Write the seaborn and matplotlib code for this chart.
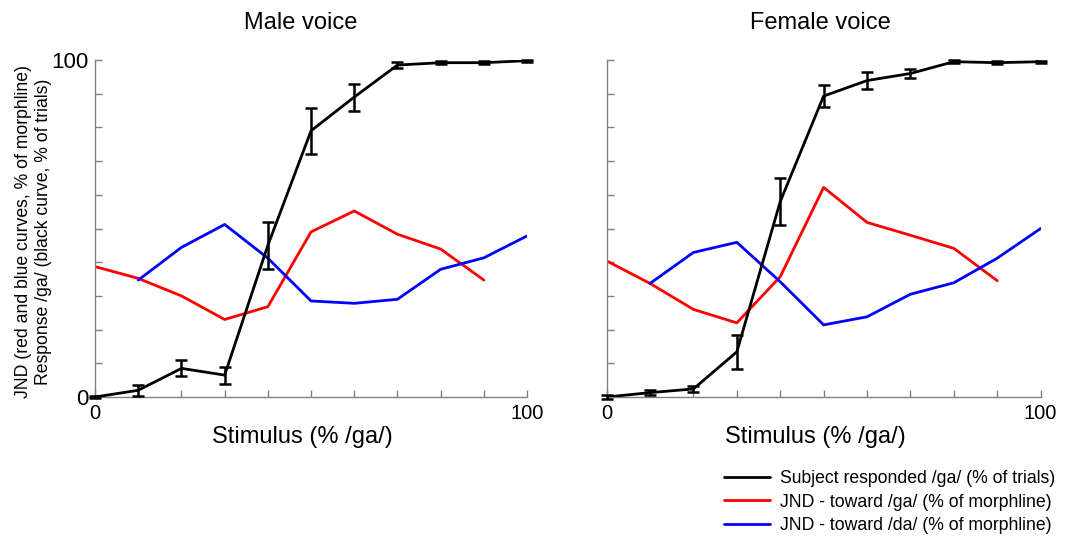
import numpy as np
import pandas as pd
import matplotlib
matplotlib.use('Agg')
import matplotlib.pyplot as plt
import seaborn as sns

# datos
estimulo = [0, 10, 20, 30, 40, 50, 60, 70, 80, 90, 100]

# voz masculina
resp_male = [0, 2, 8.5, 6.5, 45, 79, 89, 98.5, 99.2, 99.2, 99.8]
err_male = [0.4, 1.6, 2.4, 2.5, 7, 6.8, 4, 1, 0.4, 0.4, 0.3]
jnd_ga_male = [38.7, 35.2, 30, 23, 26.8, 49, 55.2, 48.3, 43.9, 34.7]
jnd_da_male = [34.7, 44.4, 51.2, 41.2, 28.5, 27.8, 29, 37.9, 41.3, 47.8]

# voz femenina
resp_female = [0, 1.3, 2.4, 13.4, 58, 89.3, 93.9, 96, 99.5, 99.2, 99.5]
err_female = [0.5, 0.7, 1, 5, 7, 3.2, 2.6, 1.2, 0.4, 0.4, 0.3]
jnd_ga_female = [40.4, 33.7, 26, 22, 35.7, 62.2, 51.8, 48, 44.1, 34.5]
jnd_da_female = [33.7, 42.9, 45.9, 34.2, 21.4, 23.8, 30.5, 33.9, 41.2, 50]

titulos = ['Male voice', 'Female voice']
etiquetas = ['Subject responded /ga/ (% of trials)',
             'JND - toward /ga/ (% of morphline)',
             'JND - toward /da/ (% of morphline)']

sns.set_style('white')
plt.rcParams['font.family'] = ['Liberation Sans', 'DejaVu Sans']
plt.rcParams['text.color'] = 'black'
plt.rcParams['axes.labelcolor'] = 'black'
plt.rcParams['xtick.color'] = 'black'
plt.rcParams['ytick.color'] = 'black'

fig = plt.figure(figsize=(10.68, 5.42), dpi=100)
ax1 = fig.add_axes([0.089, 0.2675, 0.4045, 0.6218])
ax2 = fig.add_axes([0.568, 0.2675, 0.4064, 0.6218])

datos = [(ax1, resp_male, err_male, jnd_ga_male, jnd_da_male),
         (ax2, resp_female, err_female, jnd_ga_female, jnd_da_female)]

for i, (ax, resp, err, ga, da) in enumerate(datos):
    sns.lineplot(x=estimulo[:10], y=ga, ax=ax, color='#ff0000', lw=2.0,
                 label=etiquetas[1] if i == 0 else None, legend=False)
    sns.lineplot(x=estimulo[1:], y=da, ax=ax, color='#0000ff', lw=2.0,
                 label=etiquetas[2] if i == 0 else None, legend=False)
    sns.lineplot(x=estimulo, y=resp, ax=ax, color='black', lw=2.0,
                 label=etiquetas[0] if i == 0 else None, legend=False, zorder=5)
    ax.errorbar(estimulo, resp, yerr=err, fmt='none', ecolor='black',
                elinewidth=1.8, capsize=4, capthick=1.8, clip_on=False, zorder=6)

    ax.set_xlim(0, 100)
    ax.set_ylim(0, 100)
    ticks = np.arange(0, 101, 10)
    lab = ['0'] + [''] * 9 + ['100']
    ax.set_xticks(ticks)
    ax.set_xticklabels(lab, fontsize=14.5)
    ax.set_yticks(ticks)
    if i == 0:
        ax.set_yticklabels(lab, fontsize=16)
    else:
        ax.set_yticklabels([''] * 11)
    ax.tick_params(bottom=True, left=True, direction='in', length=5, width=1,
                   color='#808080', labelcolor='black', pad=5)
    for s in ['top', 'right']:
        ax.spines[s].set_visible(False)
    for s in ['left', 'bottom']:
        ax.spines[s].set_color('#808080')
        ax.spines[s].set_linewidth(1)
    ax.set_xlabel('Stimulus (% /ga/)', fontsize=17, labelpad=3, color='black')
    ax.xaxis.set_label_coords(0.48, -0.085)
    ax.set_title(titulos[i], fontsize=17, pad=22, x=0.477 if i == 0 else 0.493,
                 color='black')

ax1.set_ylabel('JND (red and blue curves, % of morphline)\nResponse /ga/ (black curve, % of trials)',
               fontsize=12.7, linespacing=1.2, color='black')
ax1.yaxis.set_label_coords(-0.1, 0.49)

h, l = ax1.get_legend_handles_labels()
orden = [l.index(e) for e in etiquetas]
fig.legend([h[k] for k in orden], [l[k] for k in orden], loc='upper right',
           bbox_to_anchor=(0.995, 0.145), frameon=False, fontsize=12.7,
           handlelength=2.6, handletextpad=0.6, labelspacing=0.35,
           borderaxespad=0)

fig.savefig('out.png', dpi=100)
